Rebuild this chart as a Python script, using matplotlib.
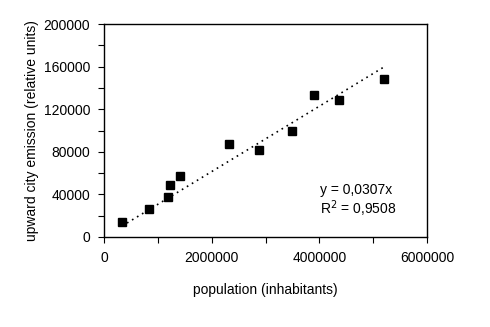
import numpy as np
import matplotlib.pyplot as plt
from matplotlib.ticker import MultipleLocator

plt.rcParams['font.family'] = ['Liberation Sans', 'DejaVu Sans']

# population (inhabitants) vs upward city emission (relative units)
population = [335000, 837000, 1190000, 1233000, 1419000, 2324000,
              2888000, 3495000, 3905000, 4357000, 5194000]
emission = [14400, 26300, 37300, 48800, 57000, 87000,
            81700, 99500, 133600, 128900, 148000]
slope = 0.0307
r2 = 0.9508

fig = plt.figure(figsize=(4.9, 3.27), dpi=100)
ax = fig.add_axes([104/490, 1-237/327, 323/490, 213/327])

xfit = np.array([min(population), max(population)])
ax.plot(xfit, slope*xfit, color='black', linestyle=(0, (1, 2.5)), linewidth=1.2)
ax.plot(population, emission, 's', color='black', markersize=5.6, linestyle='none')

ax.set_xlim(0, 6000000)
ax.set_ylim(0, 200000)
ax.xaxis.set_major_locator(MultipleLocator(2000000))
ax.xaxis.set_minor_locator(MultipleLocator(1000000))
ax.yaxis.set_major_locator(MultipleLocator(40000))
ax.yaxis.set_minor_locator(MultipleLocator(20000))
ax.tick_params(which='both', direction='out', length=4, width=0.8, labelsize=10, pad=6)
ax.xaxis.set_major_formatter(plt.FuncFormatter(lambda v, p: '%d' % v))
ax.yaxis.set_major_formatter(plt.FuncFormatter(lambda v, p: '%d' % v))
for s in ax.spines.values():
    s.set_linewidth(1.0)

ax.text(0.67, 0.22, 'y = 0,0307x', transform=ax.transAxes, fontsize=10, va='center')
ax.text(0.67, 0.135, r'R$^2$ = 0,9508', transform=ax.transAxes, fontsize=10, va='center')

ax.set_xlabel('population (inhabitants)', fontsize=10, labelpad=13)
ax.set_ylabel('upward city emission (relative units)', fontsize=10, labelpad=3)

fig.savefig('out.png', dpi=100)
